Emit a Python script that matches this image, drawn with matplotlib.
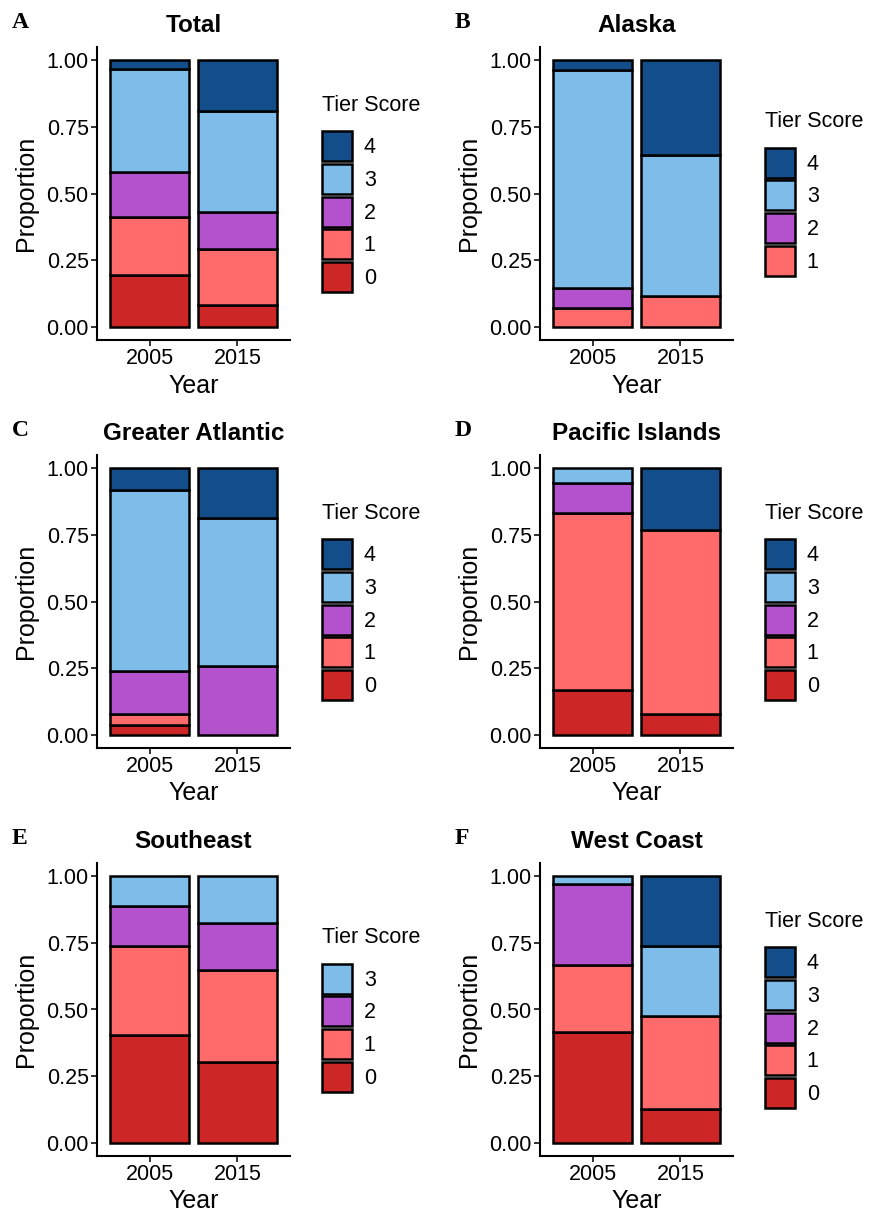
import matplotlib
matplotlib.use("Agg")
import matplotlib.pyplot as plt
from matplotlib.patches import Patch
import numpy as np

plt.rcParams['font.family'] = ['Liberation Sans', 'DejaVu Sans']

years = ['2005', '2015']
tiers = [0, 1, 2, 3, 4]
tier_colors = ['#CD2626', '#FF6A6A', '#B452CD', '#7EBCEA', '#134E8B']

# proportion of each tier score, per year (tiers 0..4)
total_2005 = [0.194, 0.217, 0.170, 0.386, 0.033]
total_2015 = [0.081, 0.209, 0.139, 0.379, 0.192]
alaska_2005 = [0.0, 0.071, 0.073, 0.819, 0.037]
alaska_2015 = [0.0, 0.115, 0.0, 0.531, 0.354]
atlantic_2005 = [0.037, 0.041, 0.162, 0.679, 0.081]
atlantic_2015 = [0.0, 0.0, 0.256, 0.558, 0.186]
pacific_2005 = [0.167, 0.667, 0.111, 0.055, 0.0]
pacific_2015 = [0.077, 0.692, 0.0, 0.0, 0.231]
southeast_2005 = [0.406, 0.331, 0.150, 0.113, 0.0]
southeast_2015 = [0.304, 0.346, 0.175, 0.175, 0.0]
westcoast_2005 = [0.416, 0.250, 0.306, 0.028, 0.0]
westcoast_2015 = [0.127, 0.350, 0.0, 0.263, 0.260]

panels = [
    ('A', 'Total', total_2005, total_2015),
    ('B', 'Alaska', alaska_2005, alaska_2015),
    ('C', 'Greater Atlantic', atlantic_2005, atlantic_2015),
    ('D', 'Pacific Islands', pacific_2005, pacific_2015),
    ('E', 'Southeast', southeast_2005, southeast_2015),
    ('F', 'West Coast', westcoast_2005, westcoast_2015),
]

W, H = 878, 1215
fig = plt.figure(figsize=(W / 100, H / 100), dpi=100)

lefts = [97, 540]
tops = [47, 455, 863]
aw, ah = 193, 293

for i, (letter, title, v05, v15) in enumerate(panels):
    col, row = i % 2, i // 2
    x0, y0 = lefts[col], tops[row]
    ax = fig.add_axes([x0 / W, 1 - (y0 + ah) / H, aw / W, ah / H])

    xs = np.arange(len(years))
    bottoms = np.zeros(len(years))
    for t in tiers:
        vals = np.array([v05[t], v15[t]])
        for j in range(len(years)):
            if vals[j] > 0:
                ax.bar(xs[j], vals[j], bottom=bottoms[j], width=0.9,
                       color=tier_colors[t], edgecolor='black', linewidth=1.8)
        bottoms += vals

    ax.set_xlim(-0.6, 1.6)
    ax.set_ylim(-0.05, 1.05)
    ax.set_xticks(xs)
    ax.set_xticklabels(years)
    ax.set_yticks([0, 0.25, 0.5, 0.75, 1.0])
    ax.set_yticklabels(['0.00', '0.25', '0.50', '0.75', '1.00'])
    ax.tick_params(labelsize=15.5, length=4, width=1.4, color='#333333',
                   labelcolor='black', pad=2)
    for s in ['top', 'right']:
        ax.spines[s].set_visible(False)
    for s in ['left', 'bottom']:
        ax.spines[s].set_linewidth(1.5)
    ax.set_xlabel('Year', fontsize=18, labelpad=3)
    ax.set_ylabel('Proportion', fontsize=18, labelpad=6)
    ax.set_title(title, fontsize=17.5, fontweight='bold', pad=11)

    fig.text((x0 - 85) / W, 1 - (y0 - 24) / H, letter, fontsize=17,
             fontweight='bold', family='Liberation Serif',
             ha='left', va='center')

    present = [t for t in tiers if v05[t] > 0 or v15[t] > 0]
    handles = [Patch(facecolor=tier_colors[t], edgecolor='black',
                     linewidth=1.8, label=str(t)) for t in reversed(present)]
    leg = ax.legend(handles=handles, title='Tier Score', loc='center left',
                    bbox_to_anchor=(1.166, 0.5), frameon=False, fontsize=15.5,
                    title_fontsize=15.5, handlelength=1.39, handleheight=1.77,
                    handletextpad=0.55, labelspacing=0.12, borderpad=0,
                    borderaxespad=0, alignment='left')
    leg._legend_box.sep = 11

fig.savefig('out.png', dpi=100)
